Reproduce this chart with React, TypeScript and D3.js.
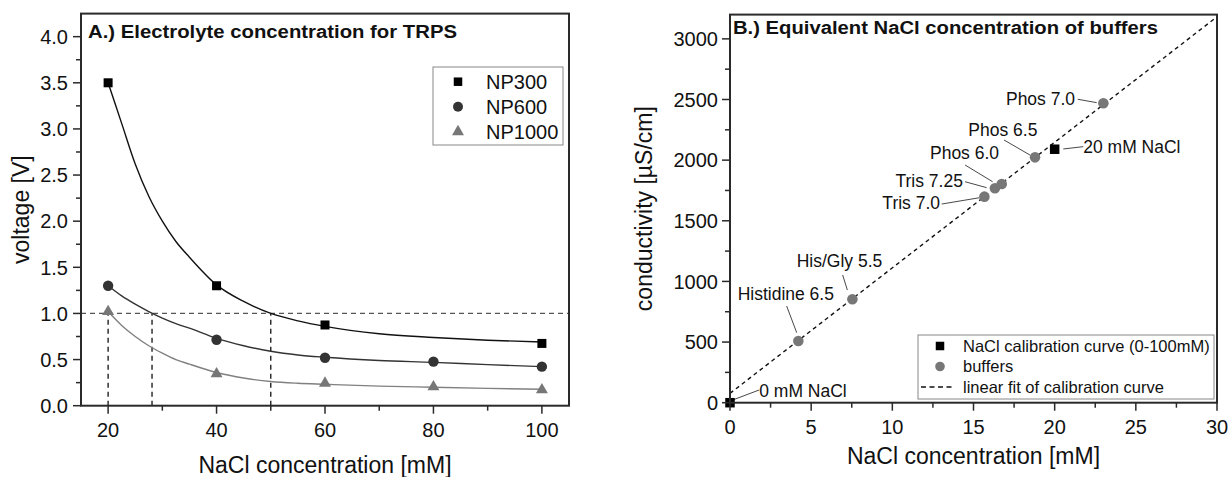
import React from 'react';
import * as d3 from 'd3';

// ---- panel A: electrolyte concentration for TRPS ----
const concA = [20, 40, 60, 80, 100];
const np300 = [3.5, 1.3, 0.875, null, 0.675];
const np600 = [1.3, 0.715, 0.52, 0.478, 0.423];
const np1000 = [1.02, 0.345, 0.243, 0.205, 0.172];

// fitted curves
const fitX = [20, 22.5, 25, 27.5, 30, 32.5, 35, 40, 45, 50, 55, 60, 70, 80, 90, 100];
const fit300 = [3.5, 3.06, 2.62, 2.27, 2.0, 1.78, 1.61, 1.31, 1.13, 1.0, 0.92, 0.86, 0.78, 0.74, 0.71, 0.69];
const fit600 = [1.3, 1.19, 1.1, 1.02, 0.95, 0.89, 0.84, 0.73, 0.65, 0.59, 0.55, 0.525, 0.49, 0.47, 0.445, 0.423];
const fit1000 = [1.02, 0.87, 0.75, 0.65, 0.57, 0.5, 0.45, 0.36, 0.3, 0.262, 0.243, 0.232, 0.212, 0.2, 0.188, 0.178];

const thresholdV = 1.0;
const crossings = [20, 28.1, 50];

const xTicksA = [20, 40, 60, 80, 100];
const xMinorA = [30, 50, 70, 90];
const yTicksA = [0, 0.5, 1, 1.5, 2, 2.5, 3, 3.5, 4];
const yMinorA = [0.25, 0.75, 1.25, 1.75, 2.25, 2.75, 3.25, 3.75];

const seriesA = ['NP300', 'NP600', 'NP1000'];

// ---- panel B: equivalent NaCl concentration of buffers ----
const naclConc = [0, 20];
const naclCond = [0, 2090];
const bufferNames = ['Histidine 6.5', 'His/Gly 5.5', 'Tris 7.0', 'Tris 7.25', 'Phos 6.0', 'Phos 6.5', 'Phos 7.0'];
const bufferConc = [4.21, 7.54, 15.67, 16.32, 16.74, 18.79, 23.0];
const bufferCond = [509, 853, 1699, 1768, 1803, 2023, 2469];
const fitLineX = [0, 30];
const fitLineY = [77, 3182];

// annotation text anchor + leader ends, in data units
const annLabels = ['Histidine 6.5', 'His/Gly 5.5', '0 mM NaCl', 'Tris 7.0', 'Tris 7.25', 'Phos 6.0', 'Phos 6.5', 'Phos 7.0', '20 mM NaCl'];
const annTextX = [0.47, 4.11, 1.8, 12.94, 14.35, 12.32, 14.68, 17.0, 21.76];
const annTextY = [847, 1119, 49, 1597, 1781, 2009, 2199, 2455, 2061];
const annAnchor = ['start', 'start', 'start', 'end', 'end', 'start', 'start', 'start', 'start'];
const annLine = [
  [3.49, 797, 4.11, 577],
  [6.94, 1053, 7.23, 929],
  [0.04, 16, 1.8, 105],
  [13.04, 1638, 15.36, 1690],
  [14.48, 1822, 15.81, 1773],
  [14.48, 1960, 16.18, 1822],
  [16.88, 2166, 18.48, 2042],
  [21.42, 2502, 22.59, 2474],
  [20.53, 2092, 21.76, 2111],
];

const xTicksB = [0, 5, 10, 15, 20, 25, 30];
const xMinorB = [2.5, 7.5, 12.5, 17.5, 22.5, 27.5];
const yTicksB = [0, 500, 1000, 1500, 2000, 2500, 3000];
const yMinorB = [250, 750, 1250, 1750, 2250, 2750];

const legendB = ['NaCl calibration curve (0-100mM)', 'buffers', 'linear fit of calibration curve'];

const FONT = '"Liberation Sans", Arial, Helvetica, sans-serif';
const AXIS = '#2a2a2a';

export default function App() {
  const xA = d3.scaleLinear().domain([15, 105]).range([81, 569]);
  const yA = d3.scaleLinear().domain([0, 4.25]).range([405.7, 13.6]);
  const xB = d3.scaleLinear().domain([0, 30]).range([730, 1217]);
  const yB = d3.scaleLinear().domain([0, 3200]).range([402.7, 14.6]);

  const curve = (ys: number[]) =>
    d3
      .line<number>()
      .x((_, i) => xA(fitX[i]))
      .y((d) => yA(d))
      .curve(d3.curveMonotoneX)(ys) || '';

  const tri = d3.symbol(d3.symbolTriangle, 62)() || '';

  const sq = (cx: number, cy: number, s: number, fill: string, key?: string) => (
    <rect key={key} x={cx - s / 2} y={cy - s / 2} width={s} height={s} fill={fill} />
  );

  const [ax0, ax1] = xA.range();
  const [ay0, ay1] = yA.range();
  const [bx0, bx1] = xB.range();
  const [by0, by1] = yB.range();

  return (
    <svg width={1230} height={477} style={{ position: 'absolute', left: 0, top: 0, background: '#fff' }} fontFamily={FONT}>
      <rect width={1230} height={477} fill="#fff" />

      {/* ===== Panel A ===== */}
      {/* reference dashed lines */}
      <line x1={ax0} x2={ax1} y1={yA(thresholdV)} y2={yA(thresholdV)} stroke="#555" strokeWidth={1.3} strokeDasharray="5,4" />
      {crossings.map((c) => (
        <line key={c} x1={xA(c)} x2={xA(c)} y1={yA(0)} y2={yA(thresholdV)} stroke="#111" strokeWidth={1.3} strokeDasharray="5,4" />
      ))}

      <path d={curve(fit1000)} fill="none" stroke="#808080" strokeWidth={1.4} />
      <path d={curve(fit600)} fill="none" stroke="#333" strokeWidth={1.4} />
      <path d={curve(fit300)} fill="none" stroke="#111" strokeWidth={1.4} />

      {concA.map((c, i) =>
        np300[i] == null ? null : sq(xA(c), yA(np300[i] as number), 9, '#000', 's' + c)
      )}
      {concA.map((c, i) => (
        <circle key={'c' + c} cx={xA(c)} cy={yA(np600[i])} r={5.2} fill="#333" />
      ))}
      {concA.map((c, i) => (
        <path key={'t' + c} d={tri} transform={`translate(${xA(c)},${yA(np1000[i])})`} fill="#777" />
      ))}

      {/* frame + ticks A */}
      <rect x={ax0} y={ay1} width={ax1 - ax0} height={ay0 - ay1} fill="none" stroke={AXIS} strokeWidth={2} />
      {xTicksA.map((t) => (
        <g key={t}>
          <line x1={xA(t)} x2={xA(t)} y1={ay0} y2={ay0 + 8} stroke={AXIS} strokeWidth={1.5} />
          <text x={xA(t)} y={437} textAnchor="middle" fontSize={20} fill="#111">{t}</text>
        </g>
      ))}
      {xMinorA.map((t) => (
        <line key={t} x1={xA(t)} x2={xA(t)} y1={ay0} y2={ay0 + 5} stroke={AXIS} strokeWidth={1.5} />
      ))}
      {yTicksA.map((t) => (
        <g key={t}>
          <line x1={ax0 - 8} x2={ax0} y1={yA(t)} y2={yA(t)} stroke={AXIS} strokeWidth={1.5} />
          <text x={ax0 - 13} y={yA(t)} dy="0.36em" textAnchor="end" fontSize={20} fill="#111">{t.toFixed(1)}</text>
        </g>
      ))}
      {yMinorA.map((t) => (
        <line key={t} x1={ax0 - 5} x2={ax0} y1={yA(t)} y2={yA(t)} stroke={AXIS} strokeWidth={1.5} />
      ))}

      <text x={88} y={37.7} fontSize={18} fontWeight="bold" fill="#111" textLength={369} lengthAdjust="spacingAndGlyphs">
        A.) Electrolyte concentration for TRPS
      </text>
      <text transform={`translate(29,${(ay0 + ay1) / 2}) rotate(-90)`} textAnchor="middle" fontSize={23} fill="#111">voltage [V]</text>
      <text x={(ax0 + ax1) / 2} y={473} textAnchor="middle" fontSize={23} fill="#111">NaCl concentration [mM]</text>

      {/* legend A */}
      <rect x={433} y={67} width={130} height={78} fill="#fff" stroke="#888" strokeWidth={1} />
      {seriesA.map((name, i) => {
        const cy = 81.7 + i * 25;
        return (
          <g key={name}>
            {i === 0 && sq(458, cy, 8.5, '#000')}
            {i === 1 && <circle cx={458} cy={cy} r={5} fill="#333" />}
            {i === 2 && <path d={tri} transform={`translate(458,${cy})`} fill="#777" />}
            <text x={486} y={cy} dy="0.36em" fontSize={20} fill="#111">{name}</text>
          </g>
        );
      })}

      {/* ===== Panel B ===== */}
      <line
        x1={xB(fitLineX[0])}
        y1={yB(fitLineY[0])}
        x2={xB(fitLineX[1])}
        y2={yB(fitLineY[1])}
        stroke="#111"
        strokeWidth={1.4}
        strokeDasharray="4,3.5"
      />
      {annLine.map((l, i) => (
        <line key={'l' + i} x1={xB(l[0])} y1={yB(l[1])} x2={xB(l[2])} y2={yB(l[3])} stroke="#333" strokeWidth={0.9} />
      ))}
      {annLabels.map((s, i) => (
        <text key={'a' + i} x={xB(annTextX[i])} y={yB(annTextY[i])} textAnchor={annAnchor[i] as any} fontSize={17.5} fill="#111">
          {s}
        </text>
      ))}
      {bufferConc.map((c, i) => (
        <circle key={bufferNames[i]} cx={xB(c)} cy={yB(bufferCond[i])} r={5.3} fill="#777" />
      ))}
      {naclConc.map((c, i) => sq(xB(c), yB(naclCond[i]), 9.5, '#000', 'n' + c))}

      {/* frame + ticks B */}
      <rect x={bx0} y={by1} width={bx1 - bx0} height={by0 - by1} fill="none" stroke={AXIS} strokeWidth={2} />
      {xTicksB.map((t) => (
        <g key={t}>
          <line x1={xB(t)} x2={xB(t)} y1={by0} y2={by0 + 8} stroke={AXIS} strokeWidth={1.5} />
          <text x={xB(t)} y={434} textAnchor="middle" fontSize={20} fill="#111">{t}</text>
        </g>
      ))}
      {xMinorB.map((t) => (
        <line key={t} x1={xB(t)} x2={xB(t)} y1={by0} y2={by0 + 5} stroke={AXIS} strokeWidth={1.5} />
      ))}
      {yTicksB.map((t) => (
        <g key={t}>
          <line x1={bx0 - 8} x2={bx0} y1={yB(t)} y2={yB(t)} stroke={AXIS} strokeWidth={1.5} />
          <text x={bx0 - 12} y={yB(t)} dy="0.36em" textAnchor="end" fontSize={20} fill="#111">{t}</text>
        </g>
      ))}
      {yMinorB.map((t) => (
        <line key={t} x1={bx0 - 5} x2={bx0} y1={yB(t)} y2={yB(t)} stroke={AXIS} strokeWidth={1.5} />
      ))}

      <text x={733} y={34.3} fontSize={18} fontWeight="bold" fill="#111" textLength={425} lengthAdjust="spacingAndGlyphs">
        B.) Equivalent NaCl concentration of buffers
      </text>
      <text transform={`translate(652,${(by0 + by1) / 2}) rotate(-90)`} textAnchor="middle" fontSize={23} fill="#111">conductivity [µS/cm]</text>
      <text x={(bx0 + bx1) / 2} y={464} textAnchor="middle" fontSize={23} fill="#111">NaCl concentration [mM]</text>

      {/* legend B */}
      <rect x={918} y={335} width={296} height={64} fill="#fff" stroke="#888" strokeWidth={1} />
      {legendB.map((name, i) => {
        const cy = 346 + i * 20.5;
        return (
          <g key={name}>
            {i === 0 && sq(940, cy, 8.5, '#000')}
            {i === 1 && <circle cx={940} cy={cy} r={4.8} fill="#777" />}
            {i === 2 && <line x1={921} x2={954} y1={cy} y2={cy} stroke="#111" strokeWidth={1.3} strokeDasharray="5,3.5" />}
            <text x={963} y={cy} dy="0.36em" fontSize={16.5} fill="#111">{name}</text>
          </g>
        );
      })}
    </svg>
  );
}
